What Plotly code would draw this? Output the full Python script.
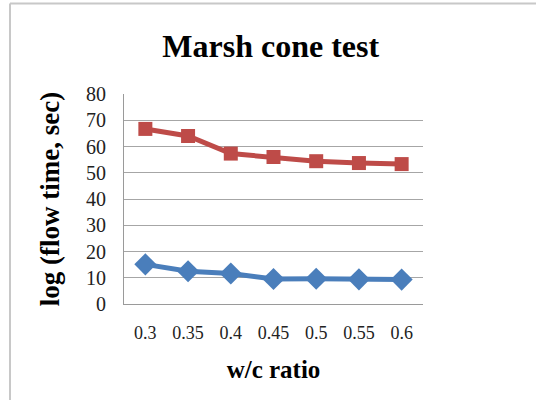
import plotly.graph_objects as go

categories = ["0.3", "0.35", "0.4", "0.45", "0.5", "0.55", "0.6"]
series_upper = [66.7, 64.0, 57.3, 56.0, 54.4, 53.7, 53.3]
series_lower = [15.1, 12.5, 11.6, 9.5, 9.6, 9.4, 9.3]
y_ticks = [0, 10, 20, 30, 40, 50, 60, 70, 80]

FONT = "Liberation Serif"
W, H = 536, 400
ML, MR, MT, MB = 124, 113, 94, 96
PW, PH = W - ML - MR, H - MT - MB

def px_x(p):
    return (p - ML) / PW

def px_y(p):
    return (H - MB - p) / PH

fig = go.Figure()
fig.add_trace(go.Scatter(
    x=categories, y=series_lower, mode="lines+markers",
    line=dict(color="#4A7EBB", width=5),
    marker=dict(symbol="diamond", size=17, color="#4A7EBB"),
    showlegend=False, cliponaxis=False,
))
fig.add_trace(go.Scatter(
    x=categories, y=series_upper, mode="lines+markers",
    line=dict(color="#BE4B48", width=5),
    marker=dict(symbol="square", size=14, color="#BE4B48"),
    showlegend=False, cliponaxis=False,
))

border = dict(color="#c8c8c8", width=2)
fig.update_layout(
    width=W, height=H,
    margin=dict(l=ML, r=MR, t=MT, b=MB, autoexpand=False),
    paper_bgcolor="white", plot_bgcolor="white",
    font=dict(family=FONT, color="#1a1a1a"),
    title=dict(text="<b>Marsh cone test</b>", font=dict(family=FONT, size=32, color="black"),
               x=0.505, xanchor="center", y=1 - 46 / H, yanchor="middle", automargin=False),
    xaxis=dict(
        type="category", range=[-0.5, 6.5], automargin=False,
        showgrid=False, showline=True, linecolor="#9a9a9a", linewidth=1,
        ticks="", ticklabelstandoff=12, tickfont=dict(family=FONT, size=18, color="#222"),
        title=dict(text="<b>w/c ratio</b>", font=dict(family=FONT, size=25, color="black"), standoff=18),
    ),
    yaxis=dict(
        range=[0, 80], tickvals=y_ticks, showgrid=True, gridcolor="#a6a6a6", gridwidth=1,
        showline=True, linecolor="#9a9a9a", linewidth=1, zeroline=False, automargin=False,
        ticks="", ticklabelstandoff=13, tickfont=dict(family=FONT, size=20, color="#222"),
        title=dict(text="<b>log (flow time, sec)</b>", font=dict(family=FONT, size=27, color="black"), standoff=18),
    ),
    shapes=[
        dict(type="line", xref="paper", yref="paper",
             x0=px_x(10), x1=px_x(W + 10), y0=px_y(3.5), y1=px_y(3.5), line=border, layer="below"),
        dict(type="line", xref="paper", yref="paper",
             x0=px_x(10), x1=px_x(10), y0=px_y(3.5), y1=px_y(H + 10), line=border, layer="below"),
    ],
)

fig.write_html("out.html", config={"displayModeBar": False})

with open("out.html", "r", encoding="utf-8") as f:
    html = f.read()
html = html.replace("<head>", "<head><style>html,body{margin:0;padding:0;overflow:hidden;}</style>", 1)
with open("out.html", "w", encoding="utf-8") as f:
    f.write(html)
